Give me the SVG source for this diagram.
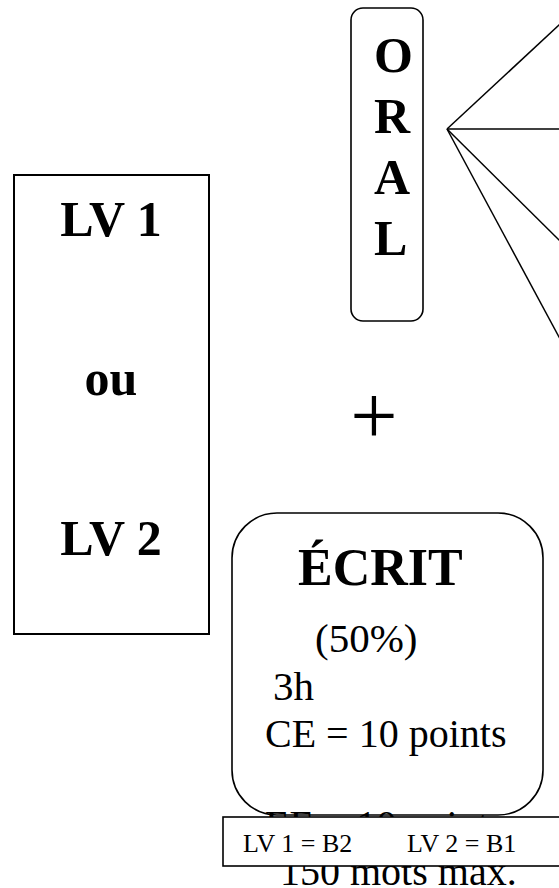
<svg xmlns="http://www.w3.org/2000/svg" width="559" height="888" viewBox="0 0 559 888">
<style>
.box{fill:none;stroke:#000;stroke-width:1.6}
.bold{font-family:"Liberation Serif","Times New Roman",serif;font-weight:bold;fill:#000}
.reg{font-family:"Liberation Serif","Times New Roman",serif;fill:#000}
.conn line{stroke:#000;stroke-width:1.5}
</style>
<rect width="559" height="888" fill="#fff"/>
<g id="oral">
<rect class="box" x="351" y="8" width="72" height="313" rx="12"/>
<text class="bold" font-size="50" x="374" y="72">O</text>
<text class="bold" font-size="50" x="374" y="133">R</text>
<text class="bold" font-size="50" x="374" y="194">A</text>
<text class="bold" font-size="50" x="374" y="255">L</text>
</g>
<g id="connectors" class="conn">
<line x1="447" y1="129" x2="570" y2="14.8"/>
<line x1="447" y1="129" x2="570" y2="129"/>
<line x1="447" y1="129" x2="570" y2="250.9"/>
<line x1="447" y1="129" x2="570" y2="357.4"/>
</g>
<g id="lv">
<rect x="14" y="175" width="195" height="459" fill="none" stroke="#000" stroke-width="2"/>
<text class="bold" font-size="50" x="111" y="236" text-anchor="middle">LV 1</text>
<text class="bold" font-size="50" x="111" y="395" text-anchor="middle">ou</text>
<text class="bold" font-size="50" x="111" y="555" text-anchor="middle">LV 2</text>
</g>
<g id="plus">
<text class="reg" font-size="84" x="374" y="444" text-anchor="middle">+</text>
</g>
<g id="ecrit">
<rect class="box" x="232" y="513" width="311" height="302" rx="45"/>
<text class="bold" font-size="52" x="298" y="585">ÉCRIT</text>
<text class="reg" font-size="41" x="315" y="652">(50%)</text>
<text class="reg" font-size="41" x="273" y="700">3h</text>
<text class="reg" font-size="40" x="265" y="747">CE = 10 points</text>
<text class="reg" font-size="40" x="265" y="838">EE = 10 points</text>
<text class="reg" font-size="40" x="280" y="885">150 mots max.</text>
</g>
<g id="niveaux">
<rect x="223" y="817" width="345" height="49" fill="#fff" stroke="#000" stroke-width="1.6"/>
<text class="reg" font-size="26" x="243" y="852">LV 1 = B2</text>
<text class="reg" font-size="26" x="407" y="852">LV 2 = B1</text>
</g>
</svg>
